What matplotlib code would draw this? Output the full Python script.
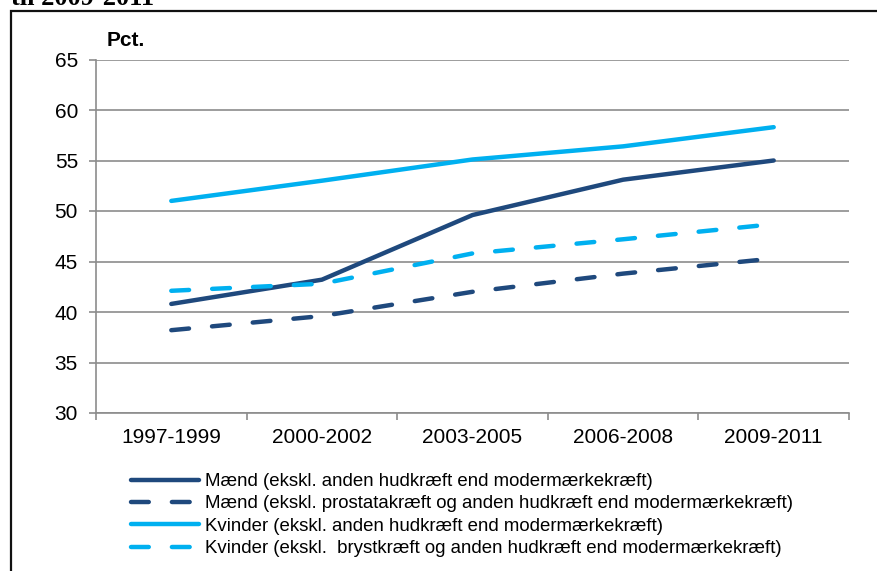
import matplotlib
matplotlib.use("Agg")
import matplotlib.pyplot as plt
from matplotlib.patches import Rectangle

plt.rcParams['font.family'] = ['Liberation Sans', 'DejaVu Sans']

periods = ['1997-1999', '2000-2002', '2003-2005', '2006-2008', '2009-2011']
maend = [40.8, 43.2, 49.6, 53.1, 55.0]
maend_ex_prostata = [38.2, 39.6, 42.0, 43.8, 45.3]
kvinder = [51.0, 53.0, 55.1, 56.4, 58.3]
kvinder_ex_bryst = [42.1, 42.8, 45.8, 47.2, 48.7]

labels = [
    'Mænd (ekskl. anden hudkræft end modermærkekræft)',
    'Mænd (ekskl. prostatakræft og anden hudkræft end modermærkekræft)',
    'Kvinder (ekskl. anden hudkræft end modermærkekræft)',
    'Kvinder (ekskl.  brystkræft og anden hudkræft end modermærkekræft)',
]

dark = '#1F497D'
light = '#00B0F0'
grid_col = '#8C8C8C'

W, H = 877, 571
fig = plt.figure(figsize=(W / 100, H / 100), dpi=100)
ax = fig.add_axes([96 / W, 1 - 413 / H, (849 - 96) / W, (413 - 59.5) / H])

x = range(len(periods))
lw = 3.2
dash = (4, 5.2)
l1, = ax.plot(x, maend, color=dark, lw=lw, solid_capstyle='round')
l2, = ax.plot(x, maend_ex_prostata, color=dark, lw=lw, dashes=dash, dash_capstyle='round')
l3, = ax.plot(x, kvinder, color=light, lw=lw, solid_capstyle='round')
l4, = ax.plot(x, kvinder_ex_bryst, color=light, lw=lw, dashes=dash, dash_capstyle='round')

ax.set_ylim(30, 65)
ax.set_yticks(range(30, 66, 5))
ax.set_xlim(-0.5, len(periods) - 0.5)
ax.set_xticks([i - 0.5 for i in range(len(periods) + 1)])
ax.set_xticklabels([])
ax.set_xticks(list(x), minor=True)
ax.set_xticklabels(periods, minor=True)
ax.tick_params(axis='x', which='major', length=5, color=grid_col, width=1.2)
ax.tick_params(axis='x', which='minor', length=0, labelsize=15, pad=11)
ax.tick_params(axis='y', length=5, color=grid_col, width=1.2, labelsize=15, pad=8)

ax.grid(axis='y', color=grid_col, lw=1.2)
ax.set_axisbelow(True)
for s in ['top', 'right']:
    ax.spines[s].set_visible(False)
for s in ['left', 'bottom']:
    ax.spines[s].set_color(grid_col)
    ax.spines[s].set_linewidth(1.2)

fig.text(107 / W, 1 - 40 / H, 'Pct.', fontsize=15, fontweight='bold', va='center')

leg = fig.legend([l1, l2, l3, l4], labels, loc='upper left',
                 bbox_to_anchor=(131 / W, 1 - 473 / H), frameon=False,
                 fontsize=13.4, handlelength=3.65, handletextpad=0.3,
                 labelspacing=0.29, borderaxespad=0, borderpad=0)

# outer frame and cut-off title from the original page
fig.add_artist(Rectangle((11 / W, -0.1), 1.2, 1 - 11 / H + 0.1,
                         transform=fig.transFigure, fill=False, ec='#111111', lw=1.6))
fig.text(11 / W, 1 - 5 / H, 'til 2009-2011', family='Liberation Serif', fontweight='bold',
         fontsize=19, va='baseline', ha='left')

fig.savefig('out.png', dpi=100)
